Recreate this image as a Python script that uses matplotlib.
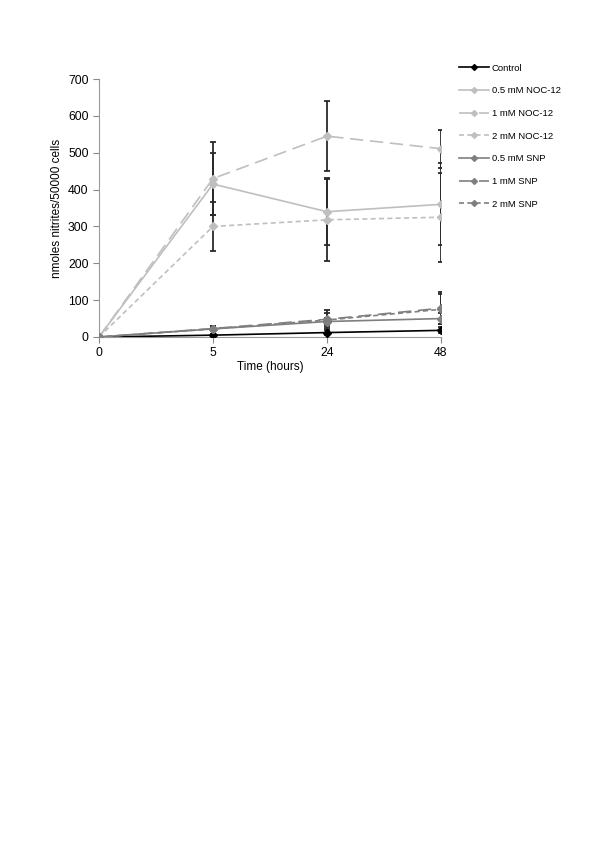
import matplotlib
matplotlib.use("Agg")
import matplotlib.pyplot as plt
from matplotlib.lines import Line2D

plt.rcParams['font.family'] = ['Liberation Sans', 'DejaVu Sans']

categories = ["0", "5", "24", "48"]
labels = ["Control", "0.5 mM NOC-12", "1 mM NOC-12", "2 mM NOC-12",
          "0.5 mM SNP", "1 mM SNP", "2 mM SNP"]
control = [0, 5, 12, 18]
noc_05 = [0, 415, 340, 360]
noc_1 = [0, 430, 545, 511]
noc_2 = [0, 300, 318, 325]
snp_05 = [0, 22, 42, 50]
snp_1 = [0, 23, 48, 78]
snp_2 = [0, 22, 46, 75]

err_control = [0, 4, 6, 8]
err_noc_05 = [0, 85, 91, 111]
err_noc_1 = [0, 100, 95, 52]
err_noc_2 = [0, 67, 112, 121]
err_snp_05 = [0, 6, 10, 15]
err_snp_1 = [0, 8, 25, 44]
err_snp_2 = [0, 7, 20, 41]

series = [control, noc_05, noc_1, noc_2, snp_05, snp_1, snp_2]
errors = [err_control, err_noc_05, err_noc_1, err_noc_2, err_snp_05, err_snp_1, err_snp_2]
colors = ["#000000", "#bfbfbf", "#bfbfbf", "#bfbfbf", "#7f7f7f", "#7f7f7f", "#7f7f7f"]
styles = ["-", "-", (0, (8, 4)), (0, (3, 2)), "-", (0, (8, 4)), (0, (3, 2))]

fig = plt.figure(figsize=(6, 8.48), dpi=100)
ax = fig.add_axes([0.165, 0.6026, 0.570, 0.3042])
x = list(range(len(categories)))

for vals, errs in zip(series, errors):
    ax.errorbar(x, vals, yerr=errs, fmt='none', ecolor='#2a2a2a',
                elinewidth=1.3, capsize=2.3, capthick=1.3, zorder=2)

handles = []
for vals, col, ls, lab in zip(series, colors, styles, labels):
    ax.plot(x, vals, color=col, linestyle=ls, linewidth=1.2, marker='D',
            markersize=4, markerfacecolor=col, markeredgecolor=col, zorder=3)
    handles.append(Line2D([0], [0], color=col, linestyle=ls, linewidth=1.2,
                          marker='D', markersize=3, markerfacecolor=col,
                          markeredgecolor=col))

ax.set_xlim(0, 3)
ax.set_ylim(0, 700)
ax.set_yticks(range(0, 701, 100))
ax.set_xticks(x)
ax.set_xticklabels(categories)
ax.tick_params(axis='both', labelsize=8.8, colors='#888888', labelcolor='black',
               length=4, width=0.8)
for s in ['top', 'right']:
    ax.spines[s].set_visible(False)
for s in ['left', 'bottom']:
    ax.spines[s].set_color('#999999')
    ax.spines[s].set_linewidth(0.8)
ax.set_xlabel("Time (hours)", fontsize=8.5, labelpad=1)
ax.set_ylabel("nmoles nitrites/50000 cells", fontsize=8.5, labelpad=4)

fig.legend(handles=handles, labels=labels, loc='upper left',
           bbox_to_anchor=(0.75, 0.935), frameon=False, fontsize=6.8,
           handlelength=3.2, labelspacing=1.45, handletextpad=0.3)

fig.savefig("out.png", dpi=100)
